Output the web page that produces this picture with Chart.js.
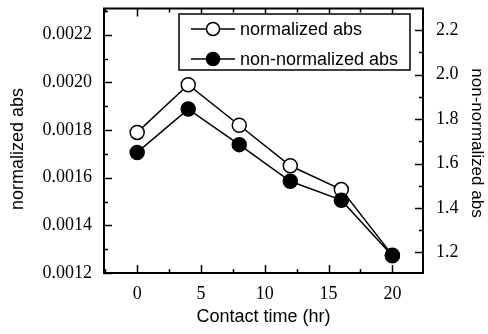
<!DOCTYPE html>
<html>
<head>
<meta charset="utf-8">
<script src="https://cdn.jsdelivr.net/npm/chart.js@4"></script>
<style>
  html, body { margin: 0; padding: 0; background: #fff; }
  #wrap { width: 488px; height: 334px; }
</style>
</head>
<body>
<div id="wrap"><canvas id="myCanvas" width="488" height="334"></canvas></div>
<script>
var hours = [0, 4, 8, 12, 16, 20]
var normalized = [0.00179, 0.00199, 0.00182, 0.00165, 0.00155, 0.001275]
var nonNormalized = [1.65, 1.845, 1.685, 1.52, 1.435, 1.185]

var xTicks = [0, 5, 10, 15, 20]
var leftTicks = [0.0012, 0.0014, 0.0016, 0.0018, 0.0020, 0.0022]
var rightTicks = [1.2, 1.4, 1.6, 1.8, 2.0, 2.2]

var serif = "'Liberation Serif', 'Times New Roman', serif"
var sans = "'Liberation Sans', Arial, sans-serif"

function pts(xs, ys) {
    return xs.map(function (x, i) { return { x: x, y: ys[i] } })
}

function setTicks(list) {
    return function (scale) {
        scale.ticks = list.map(function (v) { return { value: v } })
    }
}

function fixSize(prop, size) {
    return function (s) {
        s[prop] = size
        s.paddingTop = 0; s.paddingBottom = 0
        s.paddingLeft = 0; s.paddingRight = 0
    }
}

function minors(list, min, max) {
    var out = []
    var step = list[1] - list[0]
    for (var i = -1; i < list.length; i++) {
        var v = list[0] + (i + 0.5) * step
        if (v > min && v < max) out.push(v)
    }
    return out
}

// inward tick marks on all four sides + frame + boxed legend + y titles
var framePlugin = {
    id: 'frame',
    afterDraw: function (chart) {
        var c = chart.ctx
        var a = chart.chartArea
        var sx = chart.scales.x, sl = chart.scales.y, sr = chart.scales.y2
        c.save()
        c.strokeStyle = '#000'
        c.lineWidth = 1.5
        function hTicks(vals, len) {
            vals.forEach(function (v) {
                var px = Math.round(sx.getPixelForValue(v)) + 0.5
                c.beginPath(); c.moveTo(px, a.bottom); c.lineTo(px, a.bottom - len); c.stroke()
                c.beginPath(); c.moveTo(px, a.top); c.lineTo(px, a.top + len); c.stroke()
            })
        }
        function vTicks(scale, vals, len, left) {
            vals.forEach(function (v) {
                var py = Math.round(scale.getPixelForValue(v)) + 0.5
                var x0 = left ? a.left : a.right
                var x1 = left ? a.left + len : a.right - len
                c.beginPath(); c.moveTo(x0, py); c.lineTo(x1, py); c.stroke()
            })
        }
        hTicks(xTicks, 8)
        hTicks(minors(xTicks, sx.min, sx.max), 4)
        vTicks(sl, leftTicks, 8, true)
        vTicks(sl, minors(leftTicks, sl.min, sl.max), 4, true)
        vTicks(sr, rightTicks, 8, false)
        vTicks(sr, minors(rightTicks, sr.min, sr.max), 4, false)

        c.lineWidth = 2
        c.strokeRect(a.left, a.top, a.right - a.left, a.bottom - a.top)

        // legend box
        var bx = 179, by = 14, bw = 231, bh = 56
        c.fillStyle = '#fff'
        c.fillRect(bx, by, bw, bh)
        c.lineWidth = 1.5
        c.strokeRect(bx, by, bw, bh)
        var rows = [
            { label: chart.data.datasets[0].label, fill: '#fff', y: 29 },
            { label: chart.data.datasets[1].label, fill: '#000', y: 59 }
        ]
        c.font = '18px ' + sans
        c.textBaseline = 'middle'
        c.textAlign = 'left'
        rows.forEach(function (r) {
            c.beginPath(); c.moveTo(191, r.y); c.lineTo(235, r.y); c.stroke()
            c.beginPath(); c.arc(213, r.y, 6.5, 0, Math.PI * 2)
            c.fillStyle = r.fill; c.fill(); c.stroke()
            c.fillStyle = '#000'
            c.fillText(r.label, 240, r.y + 1)
        })

        // axis titles
        c.fillStyle = '#000'
        c.textAlign = 'center'
        c.font = '18px ' + sans
        c.save()
        c.translate(18, 149)
        c.rotate(-Math.PI / 2)
        c.fillText(sl.options.title.text, 0, 0)
        c.restore()
        c.font = '17px ' + sans
        c.save()
        c.translate(477, 143)
        c.rotate(Math.PI / 2)
        c.fillText(sr.options.title.text, 0, 0)
        c.restore()
        c.restore()
    }
}

var ctx = document.getElementById('myCanvas')
var myChart = new Chart(ctx, {
    type: 'line',
    data: {
        datasets: [
            {
                label: 'normalized abs',
                data: pts(hours, normalized),
                yAxisID: 'y',
                borderColor: '#000',
                borderWidth: 1.5,
                pointRadius: 7,
                pointBorderWidth: 1.5,
                pointBackgroundColor: '#fff',
                pointBorderColor: '#000',
                fill: false,
                order: 1
            },
            {
                label: 'non-normalized abs',
                data: pts(hours, nonNormalized),
                yAxisID: 'y2',
                borderColor: '#000',
                borderWidth: 1.5,
                pointRadius: 7,
                pointBorderWidth: 1.5,
                pointBackgroundColor: '#000',
                pointBorderColor: '#000',
                fill: false,
                order: 0
            }
        ]
    },
    options: {
        responsive: false,
        animation: false,
        events: [],
        layout: { padding: { top: 5, left: 0, right: 0, bottom: 0 } },
        plugins: { legend: { display: false }, tooltip: { enabled: false } },
        scales: {
            x: {
                type: 'linear',
                min: -2.6,
                max: 22.4,
                afterBuildTicks: setTicks(xTicks),
                afterFit: fixSize('height', 61),
                grid: { display: false, drawTicks: false },
                border: { display: false },
                ticks: { color: '#000', padding: 10, font: { family: serif, size: 18 } },
                title: { display: true, text: 'Contact time (hr)', color: '#000',
                         padding: { top: 0, bottom: 6 }, font: { family: sans, size: 18 } }
            },
            y: {
                position: 'left',
                min: 0.0012,
                max: 0.00231,
                afterBuildTicks: setTicks(leftTicks),
                afterFit: fixSize('width', 104),
                grid: { display: false, drawTicks: false },
                border: { display: false },
                ticks: { color: '#000', padding: 12, font: { family: serif, size: 18 },
                         callback: function (v) { return v.toFixed(4) } },
                title: { display: false, text: 'normalized abs' }
            },
            y2: {
                position: 'right',
                min: 1.107,
                max: 2.298,
                afterBuildTicks: setTicks(rightTicks),
                afterFit: fixSize('width', 65),
                grid: { display: false, drawTicks: false },
                border: { display: false },
                ticks: { color: '#000', padding: 13, font: { family: serif, size: 18 },
                         callback: function (v) { return v.toFixed(1) } },
                title: { display: false, text: 'non-normalized abs' }
            }
        }
    },
    plugins: [framePlugin]
});
</script>
</body>
</html>
